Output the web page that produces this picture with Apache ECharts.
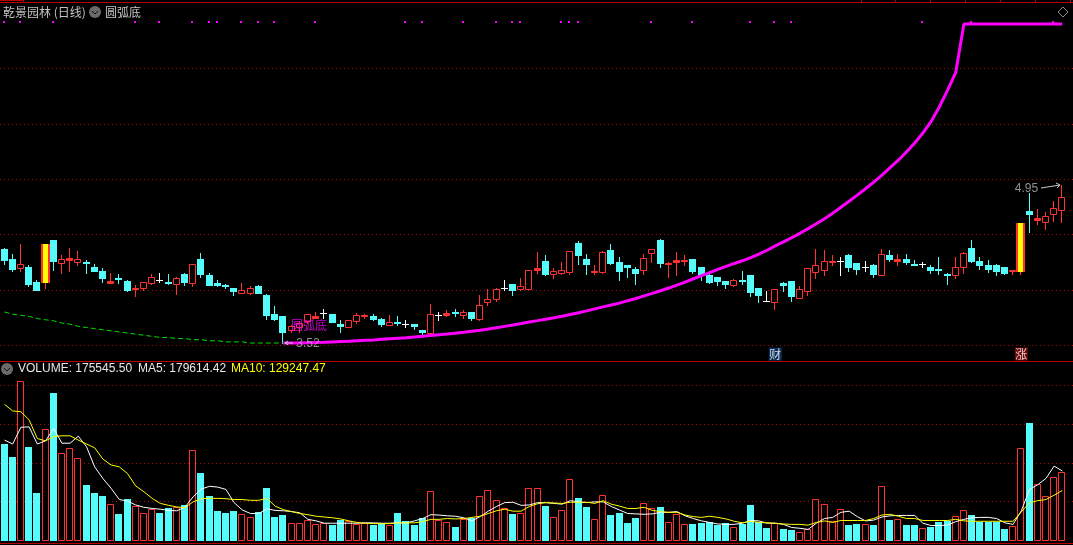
<!DOCTYPE html>
<html><head><meta charset="utf-8">
<style>html,body{margin:0;padding:0;background:#000;overflow:hidden}#c{width:1073px;height:545px}</style>
<script src="https://cdn.jsdelivr.net/npm/echarts@6/dist/echarts.min.js"></script>
</head><body><div id="c"></div>
<script>
// [open, close, low, high]
const candles = [
[4.37,4.27,4.23,4.38],[4.28,4.19,4.17,4.32],[4.20,4.23,4.17,4.41],[4.21,4.05,4.03,4.22],[4.07,4.00,4.00,4.09],
[4.07,4.41,4.02,4.41],[4.45,4.26,4.18,4.45],[4.24,4.28,4.15,4.31],[4.27,4.29,4.17,4.38],[4.25,4.28,4.22,4.35],
[4.25,4.24,4.15,4.27],[4.21,4.17,4.17,4.23],[4.17,4.11,4.07,4.20],[4.06,4.08,4.06,4.15],[4.11,4.10,4.06,4.14],
[4.08,4.00,3.99,4.09],[4.01,4.02,3.94,4.04],[4.02,4.07,4.00,4.07],[4.06,4.12,4.05,4.14],[4.09,4.09,4.07,4.15],
[4.07,4.06,4.05,4.14],[4.05,4.11,3.96,4.12],[4.14,4.07,4.04,4.15],[4.06,4.23,4.03,4.23],[4.28,4.14,4.12,4.33],
[4.13,4.04,4.04,4.15],[4.06,4.04,4.03,4.09],[4.04,4.03,4.02,4.05],[4.02,3.99,3.95,4.02],[3.97,4.00,3.97,4.06],
[3.97,4.02,3.96,4.03],[4.03,3.97,3.97,4.04],[3.95,3.77,3.74,3.96],[3.78,3.74,3.73,3.85],[3.76,3.62,3.52,3.76],
[3.64,3.67,3.62,3.68],[3.66,3.70,3.62,3.72],[3.72,3.78,3.70,3.78],[3.75,3.76,3.75,3.80],[3.79,3.79,3.75,3.83],
[3.78,3.71,3.71,3.78],[3.69,3.67,3.62,3.73],[3.66,3.73,3.66,3.73],[3.72,3.77,3.70,3.79],[3.76,3.77,3.75,3.78],
[3.76,3.74,3.73,3.78],[3.74,3.69,3.67,3.75],[3.68,3.71,3.68,3.77],[3.71,3.70,3.68,3.76],[3.69,3.69,3.66,3.73],
[3.69,3.67,3.65,3.69],[3.64,3.62,3.59,3.64],[3.61,3.78,3.60,3.87],[3.77,3.77,3.73,3.80],[3.77,3.79,3.76,3.82],
[3.80,3.79,3.76,3.83],[3.77,3.80,3.75,3.82],[3.80,3.75,3.73,3.80],[3.74,3.86,3.73,3.95],[3.89,3.92,3.86,4.01],
[3.92,4.01,3.90,4.02],[4.02,4.02,4.00,4.09],[4.05,4.00,3.95,4.05],[4.01,4.03,4.00,4.11],[4.01,4.18,4.01,4.18],
[4.18,4.20,4.15,4.34],[4.26,4.14,4.13,4.31],[4.14,4.17,4.11,4.20],[4.15,4.18,4.14,4.25],[4.16,4.35,4.14,4.35],
[4.42,4.31,4.23,4.44],[4.28,4.23,4.14,4.32],[4.16,4.17,4.14,4.22],[4.16,4.34,4.15,4.35],[4.36,4.24,4.23,4.41],
[4.25,4.17,4.09,4.30],[4.22,4.21,4.12,4.22],[4.19,4.15,4.05,4.21],[4.18,4.29,4.14,4.32],[4.33,4.37,4.25,4.37],
[4.45,4.24,4.21,4.46],[4.23,4.24,4.12,4.25],[4.25,4.27,4.13,4.34],[4.26,4.27,4.22,4.31],[4.28,4.17,4.15,4.28],
[4.21,4.13,4.09,4.21],[4.13,4.07,4.06,4.17],[4.12,4.08,4.04,4.12],[4.08,4.05,4.02,4.08],[4.04,4.09,4.03,4.10],
[4.09,4.08,4.05,4.17],[4.13,3.98,3.94,4.13],[4.02,3.95,3.89,4.02],[3.90,3.90,3.90,3.99],[3.89,4.01,3.83,4.01],
[4.06,4.04,3.99,4.07],[4.08,3.94,3.90,4.08],[3.93,4.01,3.93,4.03],[3.99,4.20,3.95,4.20],[4.16,4.22,4.11,4.37],
[4.18,4.26,4.13,4.36],[4.25,4.26,4.22,4.31],[4.26,4.26,4.13,4.30],[4.31,4.21,4.17,4.32],[4.24,4.19,4.14,4.24],
[4.21,4.21,4.17,4.26],[4.22,4.14,4.12,4.23],[4.13,4.32,4.13,4.37],[4.31,4.28,4.26,4.36],[4.26,4.28,4.22,4.32],
[4.28,4.25,4.23,4.32],[4.23,4.22,4.22,4.27],[4.23,4.23,4.21,4.25],[4.21,4.18,4.15,4.22],[4.19,4.18,4.14,4.30],
[4.14,4.13,4.05,4.15],[4.13,4.21,4.11,4.30],[4.21,4.33,4.15,4.34],[4.38,4.26,4.25,4.45],[4.26,4.22,4.19,4.30],
[4.22,4.19,4.16,4.27],[4.22,4.17,4.13,4.23],[4.21,4.15,4.14,4.21],[4.17,4.18,4.14,4.18],[4.17,4.60,4.14,4.60],
[4.71,4.68,4.52,4.87],[4.63,4.65,4.59,4.73],[4.61,4.67,4.55,4.70],[4.68,4.74,4.62,4.80],[4.72,4.84,4.61,4.95]
];
// limit-up days: [index, bottom, top]
const limitUpDays = [[5,4.07,4.41],[124,4.17,4.60]];
// green dashed lead-in, from day 0
const leadIn = [3.80,3.78,3.77,3.76,3.74,3.73,3.72,3.70,3.69,3.67,3.66,3.65,3.64,3.63,3.62,3.61,3.60,3.59,3.58,3.57,3.57,3.56,3.56,3.55,3.55,3.54,3.54,3.53,3.53,3.53,3.52,3.52,3.52,3.52,3.52];
// magenta arc, from day 34
const arcStart = 34;
const arc = [3.520,3.520,3.521,3.523,3.525,3.527,3.530,3.533,3.536,3.540,3.544,3.548,3.553,3.558,3.563,3.568,3.574,3.580,3.587,3.594,3.601,3.609,3.617,3.626,3.635,3.646,3.658,3.670,3.683,3.696,3.710,3.722,3.735,3.748,3.762,3.777,3.793,3.810,3.828,3.846,3.863,3.880,3.902,3.922,3.945,3.968,3.992,4.016,4.042,4.070,4.100,4.128,4.155,4.184,4.212,4.238,4.262,4.290,4.322,4.357,4.396,4.432,4.470,4.510,4.552,4.596,4.642,4.692,4.745,4.800,4.855,4.912,4.972,5.035,5.102,5.170,5.245,5.325,5.415,5.520,5.650,5.800,5.960,6.40,6.40,6.40,6.40,6.40,6.40,6.40,6.40,6.40,6.40,6.40,6.40,6.40];
const signalDays = [0,2,6,16,19,23,25,26,29,31,33,38,49,51,56,60,62,63,68,69,70,79,84,91,94,96,112,118,128];
const signalLevel = 6.42;
const priceGridLevels = [3.5,4,4.5,5,5.5,6];
const volumeGridLevels = [100000,200000,300000,400000];
const volumes = [248820,215358,410982,241098,122694,286572,380094,224796,237666,211926,143286,122694,114972,93522,68640,107250,88374,70356,81510,71214,84084,86658,91806,232518,174174,114972,76362,71214,76362,67782,60060,73788,135564,60918,66066,44616,44616,52338,42042,44616,40326,53196,49764,42042,44616,40326,44616,39468,71214,50622,40326,57486,126984,52338,46332,35178,54912,57486,114114,129558,103818,83226,68640,70356,134706,134706,89232,60060,78078,157872,109824,86658,54912,116688,66066,71214,45474,58344,96096,83226,86658,47190,67782,42042,42900,45474,48048,38000,44616,34320,42042,91806,48048,32604,44616,30030,27456,21450,30030,106392,93522,49764,80652,40326,42900,42042,40326,139854,53196,54912,40326,40326,31746,35178,48048,50622,62634,78078,66066,48048,48048,48048,30030,36894,237666,302874,145002,114114,163020,175545.5];
const volumeUp = [0,0,1,0,0,1,0,1,1,1,0,0,0,1,0,0,1,1,1,0,0,1,0,1,0,0,0,0,0,1,1,0,0,0,0,1,1,1,1,1,0,0,1,1,1,0,0,1,0,0,0,0,1,1,1,0,1,0,1,1,1,1,0,1,1,1,0,1,1,1,0,0,1,1,0,0,0,0,1,1,0,1,1,1,0,0,0,0,0,1,0,0,0,0,1,0,0,1,1,1,1,1,1,0,0,1,0,1,0,1,0,0,1,0,0,0,1,1,0,0,0,0,0,1,1,0,1,1,1,1];
const ma5 = [259000,249000,292000,293000,249000,257000,289000,251000,251000,269000,242000,190000,160000,135000,106000,102000,92000,86000,83000,81000,78000,77000,86000,113000,133000,140000,138000,132000,98000,79000,70000,70000,82000,78000,77000,75000,72000,55000,51000,45000,45000,45000,45000,45000,46000,46000,45000,45000,46000,46000,51000,57000,67000,66000,64000,63000,59000,51000,62000,76000,88000,98000,99000,91000,92000,98000,98000,96000,94000,103000,100000,98000,100000,100000,88000,79000,70000,69000,68000,69000,73000,73000,75000,64000,57000,51000,47000,43000,42000,42000,45000,52000,51000,45000,45000,42000,34000,32000,29000,45000,57000,60000,73000,76000,62000,51000,53000,61000,64000,65000,65000,65000,45000,39000,39000,40000,49000,55000,59000,60000,60000,57000,46000,42000,77000,132000,144000,160000,192000,179614.42];
const ma10 = [351000,334000,332000,311000,263000,257000,268000,270000,270000,259000,249000,239000,210000,195000,190000,173000,141000,126000,109000,96000,91000,87000,85000,100000,108000,109000,109000,108000,106000,106000,104000,104000,109000,89000,80000,75000,70000,67000,63000,61000,59000,56000,51000,47000,45000,44000,44000,44000,46000,46000,46000,49000,55000,55000,57000,56000,57000,60000,63000,70000,77000,81000,76000,76000,88000,95000,98000,97000,96000,99000,99000,99000,96000,103000,94000,89000,83000,83000,86000,78000,75000,73000,73000,66000,62000,60000,63000,60000,56000,50000,46000,50000,47000,46000,45000,43000,42000,42000,40000,47000,51000,47000,52000,52000,52000,52000,57000,66000,68000,63000,57000,57000,52000,52000,52000,52000,55000,51000,50000,50000,50000,50000,50000,50000,74000,98000,103000,106000,117000,129247.47];
const categories = Array.from({length: candles.length}, (_, i) => 'D' + (i + 1));

const RED='#ff3232', CYAN='#54fcfc', GRID='#a80c0c', LINE='#b80000', MAG='#ff00ff';
const FONT='"Noto Sans CJK SC","Liberation Sans",sans-serif';
const chart = echarts.init(document.getElementById('c'), null, {renderer:'canvas', devicePixelRatio:1});

const hline = (y)=>({type:'rect',silent:true,shape:{x:0,y:y,width:1073,height:1},style:{fill:LINE}});
const tick = (x)=>({type:'rect',silent:true,shape:{x:x,y:0,width:1,height:2},style:{fill:LINE}});
const txt = (x,y,t,fill,size,font)=>({type:'text',silent:true,x:x,y:y,style:{text:t,fill:fill,font:(size||12)+'px '+(font||FONT),textVerticalAlign:'middle'},z:50});
const chevron = (cx,cy)=>[
  {type:'circle',silent:true,shape:{cx:cx,cy:cy,r:6},style:{fill:'#6a6a6a'},z:50},
  {type:'polyline',silent:true,shape:{points:[[cx-3,cy-1],[cx,cy+2],[cx+3,cy-1]]},style:{stroke:'#111',lineWidth:1,fill:null},z:51}
];
const arrow = (pts)=>({type:'polyline',silent:true,shape:{points:pts},style:{stroke:'#c8c8c8',lineWidth:1,fill:null},z:50});
const box = (x,y,w,h,fill)=>({type:'rect',shape:{x:x,y:y,width:w,height:h},style:{fill:fill}});
const frame = (x,y,w,h,stroke,fill)=>({type:'rect',shape:{x:x+0.5,y:y+0.5,width:w-1,height:h-1},style:{fill:fill,stroke:stroke,lineWidth:1}});

const gridDots = (round)=>(p,api)=>{
  const y=round(api.coord([0,api.value(0)])[1])+0.5;
  return {type:'line',shape:{x1:0,y1:y,x2:1073,y2:y},style:{stroke:GRID,lineWidth:1,lineDash:[1,3]}};
};

const renderCandle=(p,api)=>{
  const i=api.value(0), o=api.value(1), c=api.value(2), l=api.value(3), h=api.value(4);
  const col=Math.floor(api.coord([i,o])[0]-0.5), left=col-3;
  const yo=Math.round(api.coord([i,o])[1]), yc=Math.round(api.coord([i,c])[1]);
  const yl=Math.round(api.coord([i,l])[1]), yh=Math.round(api.coord([i,h])[1]);
  const top=Math.min(yo,yc), bot=Math.max(yo,yc);
  const colr = c>o ? RED : (c<o ? CYAN : '#ffffff');
  const kids=[box(col,yh,1,yl-yh+1,colr)];
  if(c>o) kids.push(frame(left,top,7,bot-top+1,RED,bot-top>2?'#000':RED));
  else if(c<o) kids.push(box(left,top,7,bot-top+1,CYAN));
  else kids.push(box(left,top,7,1,colr));
  return {type:'group',children:kids};
};
const renderLimit=(p,api)=>{
  const a=api.coord([api.value(0),api.value(2)]), b=api.coord([api.value(0),api.value(1)]);
  const col=Math.floor(a[0]-0.5), top=Math.round(a[1]), h=Math.round(b[1])-top+1;
  return {type:'group',children:[box(col-4,top,9,h,RED),box(col-2,top,5,h,'#ffff00')]};
};
const renderVolume=(p,api)=>{
  const i=api.value(0), a=api.coord([i,api.value(1)]), base=api.coord([i,0]);
  const left=Math.floor(a[0]-0.5)-3, top=Math.floor(a[1]), bot=Math.floor(base[1]);
  return api.value(2) ? frame(left,top,7,bot-top+1,RED,'#000') : box(left,top,7,bot-top+1,CYAN);
};
const renderSignal=(p,api)=>{
  const a=api.coord([api.value(0),api.value(1)]);
  return box(Math.floor(a[0]-0.5)-1,Math.floor(a[1]),2,2,MAG);
};

const axisOff={axisLine:{show:false},axisTick:{show:false},axisLabel:{show:false},splitLine:{show:false}};
const note=(v,text,color,font,offset)=>({value:v,label:{show:true,position:'inside',formatter:text,color:color,fontSize:12,fontFamily:font,offset:offset}});
const badge=(v,text,bg)=>({value:v,label:{show:true,position:'inside',formatter:text,color:'#fff',fontSize:12,fontFamily:FONT,backgroundColor:bg,width:13,height:13,lineHeight:13,align:'center',verticalAlign:'middle'}});

chart.setOption({
  animation:false,
  backgroundColor:'#000',
  graphic:{elements:[
    hline(2),hline(361),hline(543),
    {type:'rect',silent:true,shape:{x:0,y:0,width:23,height:1},style:{fill:LINE}},
    tick(23),tick(861),tick(895),tick(930),tick(965),tick(1000),tick(1035),tick(1070),
    txt(3,12,'乾景园林 (日线)','#c4c4c4',12),
    ...chevron(95,12),
    txt(105,12,'圆弧底','#c4c4c4',12),
    {type:'polygon',silent:true,shape:{points:[[1063,7],[1068,12],[1063,17],[1058,12]]},style:{stroke:'#8a8a8a',lineWidth:1,fill:null},z:50},
    ...chevron(7,369),
    txt(18,369,'VOLUME: 175545.50','#e8e8e8',12,'"Liberation Sans",sans-serif'),
    txt(138,369,'MA5: 179614.42','#e8e8e8',12,'"Liberation Sans",sans-serif'),
    txt(231,369,'MA10: 129247.47','#ffff00',12,'"Liberation Sans",sans-serif'),
    arrow([[1041,188],[1060,185]]),arrow([[1056,183],[1060,185],[1057,188]]),
    arrow([[293,343],[285,343]]),arrow([[288,341],[285,343],[288,345]])
  ]},
  grid:[
    {left:0.4,width:1066,top:2.4,height:359},
    {left:0.4,width:1066,top:362,height:178.7}
  ],
  xAxis:[
    Object.assign({type:'category',gridIndex:0,data:categories,boundaryGap:true},axisOff),
    Object.assign({type:'category',gridIndex:1,data:categories,boundaryGap:true},axisOff)
  ],
  yAxis:[
    Object.assign({type:'value',gridIndex:0,min:3.354,max:6.594},axisOff),
    Object.assign({type:'value',gridIndex:1,min:0,max:460000},axisOff)
  ],
  series:[
    {type:'custom',name:'priceGrid',xAxisIndex:0,yAxisIndex:0,clip:false,silent:true,z:1,encode:{y:0},
     data:priceGridLevels.map(v=>[v]),renderItem:gridDots(Math.round)},
    {type:'custom',name:'volumeGrid',xAxisIndex:1,yAxisIndex:1,clip:false,silent:true,z:1,encode:{y:0},
     data:volumeGridLevels.map(v=>[v]),renderItem:gridDots(Math.floor)},
    {type:'custom',name:'K',xAxisIndex:0,yAxisIndex:0,silent:true,z:3,encode:{x:0,y:[1,2,3,4]},
     data:candles.map((r,i)=>[i].concat(r)),renderItem:renderCandle},
    {type:'custom',name:'limit',xAxisIndex:0,yAxisIndex:0,silent:true,z:4,encode:{x:0,y:[1,2]},
     data:limitUpDays,renderItem:renderLimit},
    {type:'line',name:'lead',xAxisIndex:0,yAxisIndex:0,data:leadIn,symbol:'none',z:5,
     lineStyle:{color:'#00e000',width:1,type:[5,3]}},
    {type:'line',name:'arc',xAxisIndex:0,yAxisIndex:0,symbol:'none',z:6,
     data:new Array(arcStart).fill(null).concat(arc),lineStyle:{color:MAG,width:3}},
    {type:'custom',name:'signal',xAxisIndex:0,yAxisIndex:0,silent:true,z:7,encode:{x:0,y:1},
     data:signalDays.map(i=>[i,signalLevel]),renderItem:renderSignal},
    {type:'scatter',name:'notes',xAxisIndex:0,yAxisIndex:0,symbolSize:0,z:8,silent:true,
     data:[
       note([37,3.68],'圆弧底',MAG,FONT,[1,0]),
       note([37,3.51],'3.52','#b4b4b4','"Liberation Sans",sans-serif',[0,0]),
       note([125,4.91],'4.95','#b4b4b4','"Liberation Sans",sans-serif',[-3,0]),
       badge([94,3.42],'财','#0c3a6e'),
       badge([124,3.42],'涨','#8a0a0a')
     ]},
    {type:'custom',name:'VOLUME',xAxisIndex:1,yAxisIndex:1,silent:true,z:3,encode:{x:0,y:1},
     data:volumes.map((v,i)=>[i,v,volumeUp[i]]),renderItem:renderVolume},
    {type:'line',name:'MA5',xAxisIndex:1,yAxisIndex:1,data:ma5,symbol:'none',z:5,lineStyle:{color:'#ffffff',width:1}},
    {type:'line',name:'MA10',xAxisIndex:1,yAxisIndex:1,data:ma10,symbol:'none',z:6,lineStyle:{color:'#ffff00',width:1}}
  ]
});
</script></body></html>
